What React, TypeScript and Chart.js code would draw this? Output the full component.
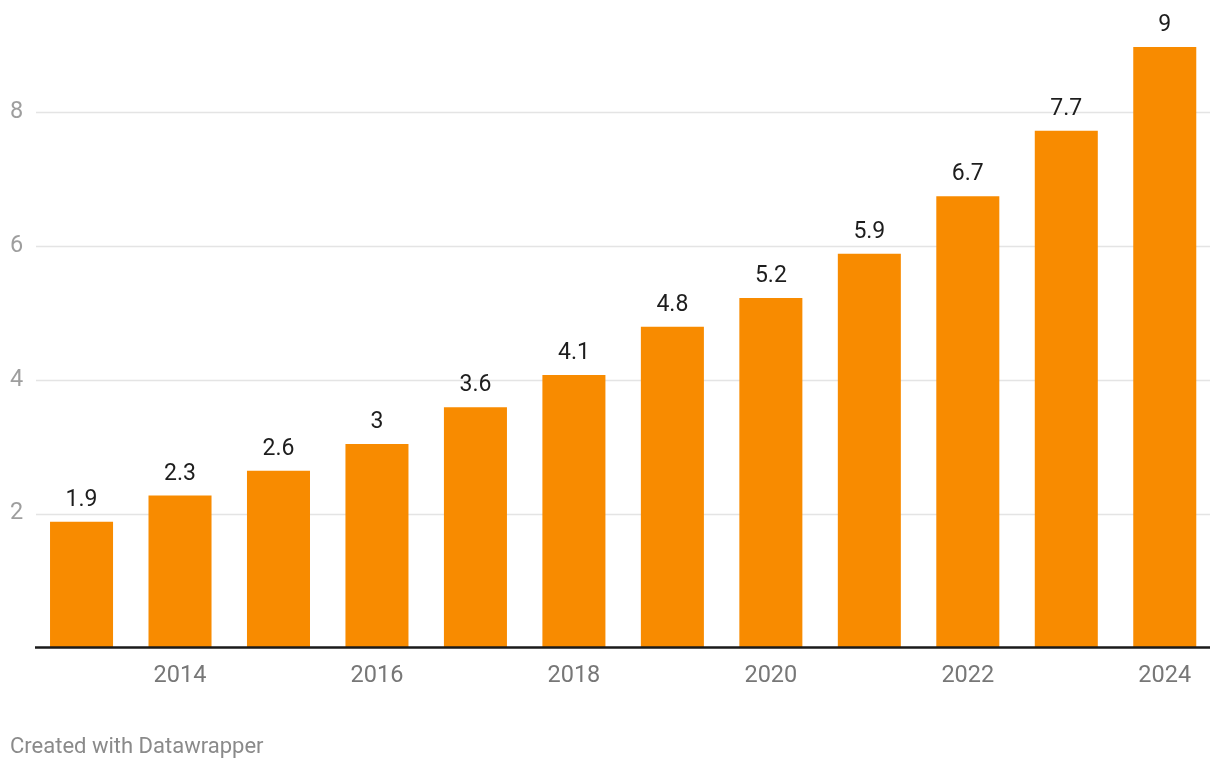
import React, { useEffect, useRef } from "react";
import { Chart, registerables } from "chart.js";

Chart.register(...registerables);

const years = ["2013", "2014", "2015", "2016", "2017", "2018", "2019", "2020", "2021", "2022", "2023", "2024"];
const values = [1.88, 2.27, 2.64, 3.04, 3.59, 4.07, 4.79, 5.22, 5.88, 6.74, 7.72, 8.97];
const yTicks = [2, 4, 6, 8];
const shownYears = ["2014", "2016", "2018", "2020", "2022", "2024"];

const FONT = "Roboto, 'Noto Sans', sans-serif";

const fmt = (v: number) => String(Number(v.toFixed(1)));

const decorPlugin = {
  id: "decor",
  beforeDatasetsDraw(chart: any) {
    const { ctx } = chart;
    const y = chart.scales.y;
    ctx.save();
    ctx.strokeStyle = "#e4e4e4";
    ctx.lineWidth = 1.6;
    yTicks.forEach((t) => {
      const py = Math.round(y.getPixelForValue(t)) + 0.5;
      ctx.beginPath();
      ctx.moveTo(36, py);
      ctx.lineTo(1210, py);
      ctx.stroke();
    });
    ctx.restore();
  },
  afterDatasetsDraw(chart: any) {
    const { ctx } = chart;
    const y = chart.scales.y;
    const meta = chart.getDatasetMeta(0);
    ctx.save();
    ctx.strokeStyle = "#1a1a1a";
    ctx.lineWidth = 2.4;
    const by = y.getPixelForValue(0);
    ctx.beginPath();
    ctx.moveTo(35, by);
    ctx.lineTo(1210, by);
    ctx.stroke();
    ctx.fillStyle = "#1d1d1d";
    ctx.font = `23px ${FONT}`;
    ctx.textAlign = "center";
    ctx.textBaseline = "alphabetic";
    meta.data.forEach((bar: any, i: number) => {
      ctx.fillText(fmt(values[i]), bar.x, bar.y - 16);
    });
    ctx.restore();
  },
};

export default function App() {
  const ref = useRef<HTMLCanvasElement | null>(null);
  useEffect(() => {
    if (!ref.current) return;
    const chart = new Chart(ref.current, {
      type: "bar",
      data: {
        labels: years,
        datasets: [
          {
            data: values,
            backgroundColor: "#f88b00",
            borderWidth: 0,
            categoryPercentage: 1,
            barPercentage: 0.64,
          },
        ],
      },
      options: {
        responsive: false,
        animation: false,
        devicePixelRatio: 1,
        layout: { padding: { top: 45, right: 6, left: 0, bottom: 0 } },
        plugins: { legend: { display: false }, tooltip: { enabled: false } },
        scales: {
          x: {
            grid: { display: false, drawTicks: false },
            border: { display: false },
            afterFit: (s: any) => {
              s.height = 122.5;
            },
            ticks: {
              autoSkip: false,
              maxRotation: 0,
              padding: 15,
              color: "#777777",
              font: { family: FONT, size: 23.5 },
              callback: (_v: any, i: number) => (shownYears.includes(years[i]) ? years[i] : ""),
            },
          },
          y: {
            min: 0,
            max: 9,
            grid: { display: false, drawTicks: false },
            border: { display: false },
            afterFit: (s: any) => {
              s.width = 32.3;
            },
            afterBuildTicks: (s: any) => {
              s.ticks = yTicks.map((v) => ({ value: v }));
            },
            ticks: {
              padding: 9,
              color: "#9e9e9e",
              font: { family: FONT, size: 23.5 },
            },
          },
        },
      },
      plugins: [decorPlugin],
    });
    return () => chart.destroy();
  }, []);
  return (
    <div style={{ position: "absolute", left: 0, top: 0, width: 1220, height: 770, background: "#fff" }}>
      <canvas ref={ref} width={1220} height={770} style={{ width: 1220, height: 770, display: "block" }} />
      <div
        style={{
          position: "absolute",
          left: 10,
          top: 733,
          fontFamily: FONT,
          fontSize: 22,
          color: "#8a8a8a",
          lineHeight: "26px",
        }}
      >
        Created with Datawrapper
      </div>
    </div>
  );
}
